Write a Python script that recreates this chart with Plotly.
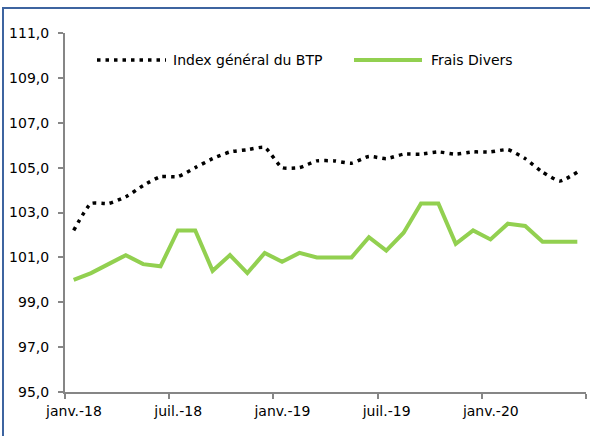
import plotly.graph_objects as go

# ---- data ----
tick_labels = ["janv.-18", "juil.-18", "janv.-19", "juil.-19", "janv.-20", ""]
series_names = ["Index général du BTP", "Frais Divers"]
index_btp = [102.2, 103.4, 103.4, 103.7, 104.2, 104.6, 104.6, 105.0, 105.4, 105.7,
             105.8, 105.9, 105.0, 105.0, 105.3, 105.3, 105.2, 105.5, 105.4, 105.6,
             105.6, 105.7, 105.6, 105.7, 105.7, 105.8, 105.4, 104.8, 104.4, 104.8]
frais_divers = [100.0, 100.3, 100.7, 101.1, 100.7, 100.6, 102.2, 102.2, 100.4, 101.1,
                100.3, 101.2, 100.8, 101.2, 101.0, 101.0, 101.0, 101.9, 101.3, 102.1,
                103.4, 103.4, 101.6, 102.2, 101.8, 102.5, 102.4, 101.7, 101.7, 101.7]

n = len(index_btp)
x = list(range(n))
tickvals = [-0.5 + 6 * k for k in range(len(tick_labels))]

GREEN = "#92D050"
AXIS = "#868686"
FONT = "DejaVu Sans"
DOT = "3.5px,5px"

fig = go.Figure()
fig.add_trace(go.Scatter(
    x=x, y=index_btp, mode="lines", name=series_names[0],
    line=dict(color="black", width=3.5, dash=DOT, shape="spline", smoothing=0.5),
    showlegend=False))
fig.add_trace(go.Scatter(
    x=x, y=frais_divers, mode="lines", name=series_names[1],
    line=dict(color=GREEN, width=4), showlegend=False))

# manual legend (long samples as in the original)
L, R, T, B = 65, 586, 33, 392
W, H = R - L, B - T
def px(xp):
    return (xp - L) / W
def py(yp):
    return (B - yp) / H

legend_y = py(60)
fig.add_shape(type="line", xref="paper", yref="paper",
              x0=px(97), x1=px(166), y0=legend_y, y1=legend_y,
              line=dict(color="black", width=3.5, dash=DOT))
fig.add_shape(type="line", xref="paper", yref="paper",
              x0=px(354), x1=px(422), y0=legend_y, y1=legend_y,
              line=dict(color=GREEN, width=4))
fig.add_annotation(xref="paper", yref="paper", x=px(171), y=legend_y,
                   text=series_names[0], showarrow=False, xanchor="left", yanchor="middle",
                   font=dict(family=FONT, size=14, color="black"))
fig.add_annotation(xref="paper", yref="paper", x=px(429), y=legend_y,
                   text=series_names[1], showarrow=False, xanchor="left", yanchor="middle",
                   font=dict(family=FONT, size=14, color="black"))

# outer blue frame
fig.add_shape(type="rect", xref="paper", yref="paper",
              x0=px(3), x1=px(600), y0=py(8), y1=py(450),
              line=dict(color="#3D64A0", width=2), fillcolor="rgba(0,0,0,0)", layer="above")

fig.update_layout(
    width=590, height=436,
    margin=dict(l=L, r=590 - R, t=T, b=436 - B, autoexpand=False),
    paper_bgcolor="white", plot_bgcolor="white",
    separators=", ",
    font=dict(family=FONT, size=14, color="black"),
    showlegend=False,
)
fig.update_xaxes(
    range=[-0.5, n - 0.5], tickmode="array", tickvals=tickvals, ticktext=tick_labels,
    ticks="outside", ticklen=5, tickwidth=2, tickcolor=AXIS,
    showline=True, linecolor=AXIS, linewidth=2, showgrid=False, zeroline=False,
    ticklabelshift=9, automargin=False,
)
fig.update_yaxes(
    range=[95, 111], dtick=2, tick0=95, tickformat=".1f",
    ticks="outside", ticklen=5, tickwidth=2, tickcolor=AXIS,
    showline=True, linecolor=AXIS, linewidth=2, showgrid=False, zeroline=False,
    ticklabelstandoff=6, automargin=False,
)

fig.write_html("out.html", config={"displayModeBar": False},
               post_script="document.body.style.margin='0';document.body.style.overflow='hidden';")
